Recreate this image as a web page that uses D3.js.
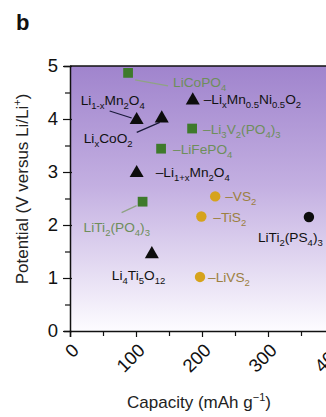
<!DOCTYPE html>
<html>
<head>
<meta charset="utf-8">
<script src="https://cdn.jsdelivr.net/npm/d3@7"></script>
<style>
  html, body { margin: 0; padding: 0; background: #fff; }
  svg { display: block; font-family: "Liberation Sans", Arial, sans-serif; }
</style>
</head>
<body>
<svg id="chart" width="326" height="417"></svg>
<script>
// Electrode materials: capacity (mAh/g) vs potential (V vs Li/Li+)
const materials = ["LiCoPO_{4}", "Li_{1-x}Mn_{2}O_{4}", "Li_{x}CoO_{2}", "–Li_{x}Mn_{0.5}Ni_{0.5}O_{2}",
  "–Li_{3}V_{2}(PO_{4})_{3}", "–LiFePO_{4}", "–Li_{1+x}Mn_{2}O_{4}", "LiTi_{2}(PO_{4})_{3}",
  "–VS_{2}", "–TiS_{2}", "LiTi_{2}(PS_{4})_{3}", "Li_{4}Ti_{5}O_{12}", "–LiVS_{2}"];
const capacity = [88, 101, 139, 186, 185, 138, 101, 110, 220, 199, 362, 124, 197];
const potential = [4.87, 4.0, 4.03, 4.37, 3.82, 3.44, 3.0, 2.44, 2.54, 2.16, 2.15, 1.47, 1.02];
const family = ["phosphate", "oxide", "oxide", "oxide", "phosphate", "phosphate", "oxide",
  "phosphate", "sulfide", "sulfide", "thiophosphate", "oxide", "sulfide"];

const xTicks = [0, 100, 200, 300, 400];
const yTicks = [0, 1, 2, 3, 4, 5];

// Label placement relative to each marker (pixels), plus optional leader lines
const labelOffset = [[45, 14], [-56, -14], [-78, 26], [11, 5], [11, 5], [12, 5], [19, 5],
  [-59, 30], [10, 5], [12, 5], [-51, 25], [-40, 27], [8, 5]];
const leaders = [[7, 7, 40, 13], [-27, -8, -5, -1], [-25, 15, -2, 5], null, null, null, null,
  [-21, 11, -6, 4], null, null, null, null, null];

const style = {
  phosphate: { shape: "square", fill: "#3e7a2b", text: "#6e8e5b", line: "#8fa384" },
  oxide: { shape: "triangle", fill: "#0d0d0d", text: "#111111", line: "#1a1a3a" },
  sulfide: { shape: "circle", fill: "#d6a31c", text: "#9c8040", line: "#9c8040" },
  thiophosphate: { shape: "circle", fill: "#0d0d0d", text: "#111111", line: "#111" }
};

const svg = d3.select("#chart");
const margin = { left: 70, top: 66, bottom: 331 };
const x = d3.scaleLinear().domain([0, 450]).range([margin.left, margin.left + 0.66 * 450]);
const y = d3.scaleLinear().domain([0, 5]).range([margin.bottom, margin.top]);

// Background gradient
const defs = svg.append("defs");
const grad = defs.append("linearGradient").attr("id", "bg").attr("x1", 0).attr("x2", 0).attr("y1", 0).attr("y2", 1);
grad.append("stop").attr("offset", "0%").attr("stop-color", "#a084cd");
grad.append("stop").attr("offset", "45%").attr("stop-color", "#c3afe1");
grad.append("stop").attr("offset", "100%").attr("stop-color", "#fdfcff");

svg.append("rect")
  .attr("x", x(0)).attr("y", y(5))
  .attr("width", x(450) - x(0)).attr("height", y(0) - y(5))
  .attr("fill", "url(#bg)");

// Top frame line
svg.append("line")
  .attr("x1", x(0)).attr("x2", x(450)).attr("y1", y(5)).attr("y2", y(5))
  .attr("stroke", "#111").attr("stroke-width", 1.5);

// Y axis
const yAxis = svg.append("g").attr("transform", `translate(${x(0)},0)`)
  .call(d3.axisLeft(y).tickValues(yTicks).tickSize(6).tickPadding(6).tickFormat(d3.format("d")));
yAxis.selectAll(".tick line").attr("x2", -7).attr("x1", 2);
svg.append("g").attr("transform", `translate(${x(0)},0)`)
  .call(d3.axisLeft(y).tickValues([0.5, 1.5, 2.5, 3.5, 4.5]).tickSize(5).tickFormat(""))
  .call(g => g.select(".domain").remove());

// X axis
const xAxis = svg.append("g").attr("transform", `translate(0,${y(0)})`)
  .call(d3.axisBottom(x).tickValues(xTicks).tickSize(6).tickFormat(d3.format("d")));
svg.append("g").attr("transform", `translate(0,${y(0)})`)
  .call(d3.axisBottom(x).tickValues([50, 150, 250, 350, 450]).tickSize(5).tickFormat(""))
  .call(g => g.select(".domain").remove());

svg.selectAll(".domain").attr("stroke", "#111").attr("stroke-width", 1.5);
svg.selectAll(".tick line").attr("stroke", "#111").attr("stroke-width", 1.2);

yAxis.selectAll(".tick text").attr("font-size", 18.5).attr("fill", "#111")
  .attr("font-family", "Liberation Sans, Arial, sans-serif");
xAxis.selectAll(".tick text")
  .attr("font-size", 18.5).attr("fill", "#111")
  .attr("font-family", "Liberation Sans, Arial, sans-serif")
  .attr("text-anchor", "end")
  .attr("x", 0).attr("y", 0)
  .attr("dy", "0.35em")
  .attr("transform", "translate(5,16) rotate(-45)");

// Axis titles
svg.append("text")
  .attr("transform", `translate(28,189) rotate(-90)`)
  .attr("text-anchor", "middle").attr("font-size", 17).attr("fill", "#222")
  .call(t => {
    t.append("tspan").text("Potential (V versus Li/Li");
    t.append("tspan").attr("font-size", 11).attr("dy", -7).text("+");
    t.append("tspan").attr("dy", 7).text(")");
  });

svg.append("text")
  .attr("x", 199).attr("y", 408)
  .attr("text-anchor", "middle").attr("font-size", 17).attr("fill", "#222")
  .call(t => {
    t.append("tspan").text("Capacity (mAh g");
    t.append("tspan").attr("font-size", 11).attr("dy", -7).text("−1");
    t.append("tspan").attr("dy", 7).text(")");
  });

// Panel letter
svg.append("text").attr("x", 16).attr("y", 30)
  .attr("font-size", 22).attr("font-weight", "bold").attr("fill", "#111").text("b");

// Chemical formula with subscripts: "X_{n}" -> subscripted n
function formula(sel, str) {
  const parts = str.split(/(_\{[^}]*\})/).filter(p => p.length);
  let sub = false;
  parts.forEach(p => {
    if (p.startsWith("_{")) {
      sel.append("tspan").attr("font-size", 9.5).attr("dy", sub ? 0 : 4).text(p.slice(2, -1));
      sub = true;
    } else {
      sel.append("tspan").attr("dy", sub ? -4 : 0).text(p);
      sub = false;
    }
  });
}

const data = materials.map((m, i) => ({
  name: m, cap: capacity[i], pot: potential[i], fam: family[i],
  off: labelOffset[i], lead: leaders[i]
}));

// Leader lines
svg.append("g").selectAll("line").data(data.filter(d => d.lead)).join("line")
  .attr("x1", d => x(d.cap) + d.lead[0]).attr("y1", d => y(d.pot) + d.lead[1])
  .attr("x2", d => x(d.cap) + d.lead[2]).attr("y2", d => y(d.pot) + d.lead[3])
  .attr("stroke", d => style[d.fam].line).attr("stroke-width", 1.3);

// Markers
const symbolMap = { square: d3.symbolSquare, triangle: d3.symbolTriangle, circle: d3.symbolCircle };
const sizeMap = { square: 95, triangle: 85, circle: 85 };
svg.append("g").selectAll("path").data(data).join("path")
  .attr("transform", d => `translate(${x(d.cap)},${y(d.pot) + (style[d.fam].shape === "triangle" ? 1 : 0)})`)
  .attr("d", d => d3.symbol(symbolMap[style[d.fam].shape], sizeMap[style[d.fam].shape])())
  .attr("fill", d => style[d.fam].fill);

// Labels
svg.append("g").selectAll("text").data(data).join("text")
  .attr("x", d => x(d.cap) + d.off[0]).attr("y", d => y(d.pot) + d.off[1])
  .attr("font-size", 13.7).attr("fill", d => style[d.fam].text)
  .each(function (d) { formula(d3.select(this), d.name); });
</script>
</body>
</html>
